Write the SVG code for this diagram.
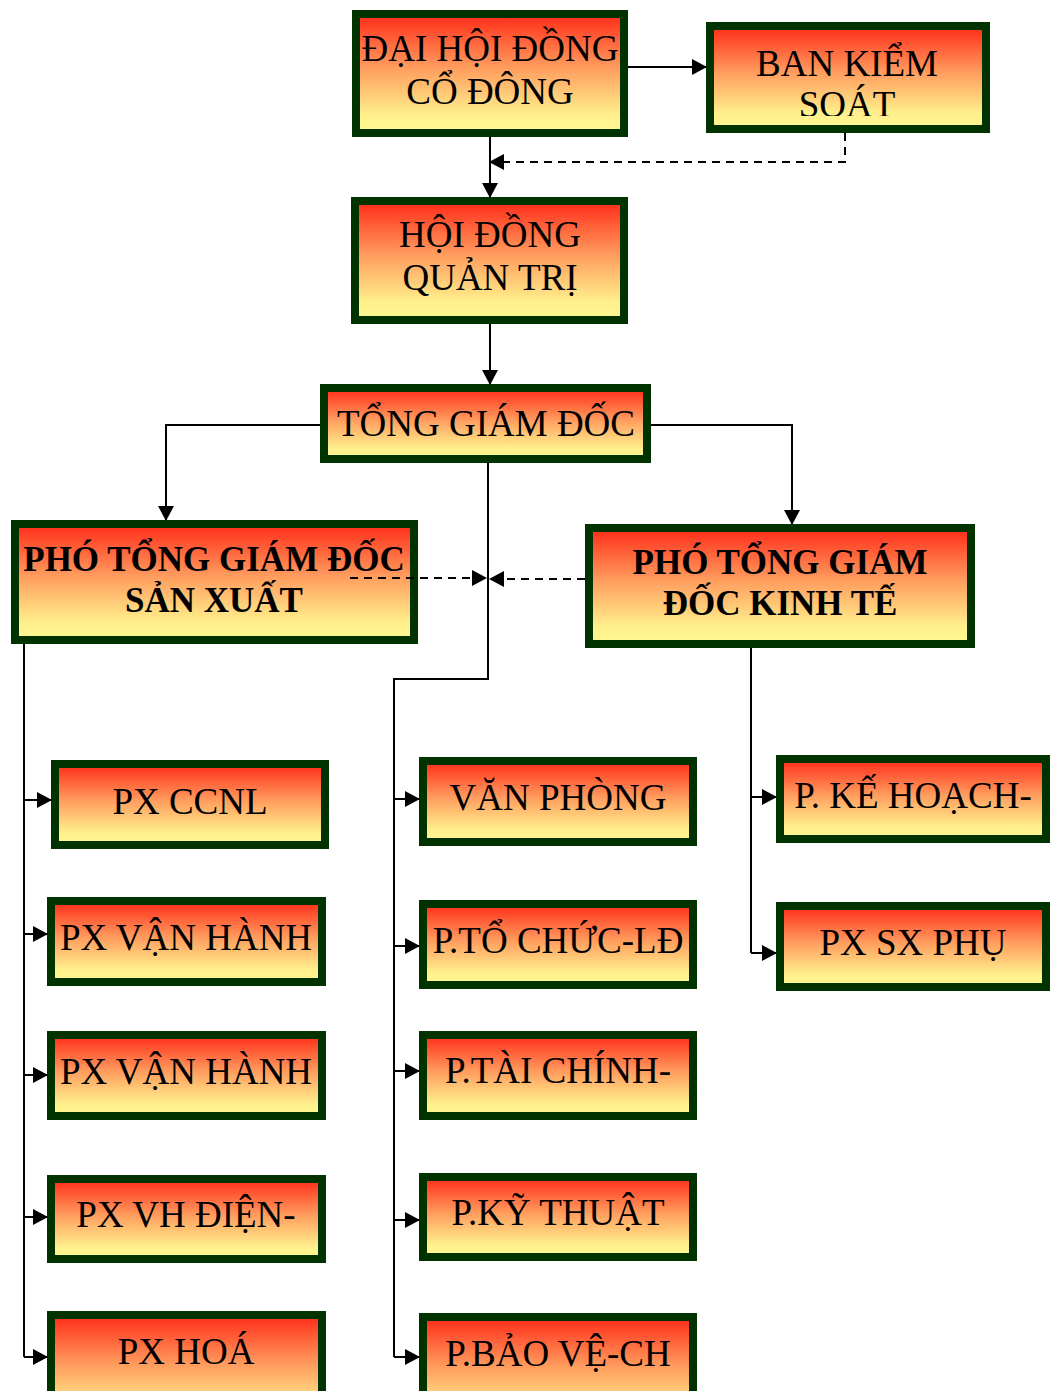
<svg xmlns="http://www.w3.org/2000/svg" width="1050" height="1391" viewBox="0 0 1050 1391">
<style>
.box{stroke:#003300;stroke-width:8;fill:url(#g)}
.t{font-family:"Liberation Serif","Times New Roman",serif;font-size:37px;fill:#000;text-anchor:middle}
.b{font-weight:bold;font-size:35px}
.ln{fill:none;stroke:#000;stroke-width:2}
.ds{stroke-dasharray:8,6}
</style>
<defs>
<linearGradient id="g" x1="0" y1="0" x2="0" y2="1">
<stop offset="0" stop-color="#ff2a18"/>
<stop offset="0.45" stop-color="#ff9c5e"/>
<stop offset="0.85" stop-color="#fff08c"/>
<stop offset="1" stop-color="#fff891"/>
</linearGradient>
<marker id="a" markerUnits="userSpaceOnUse" markerWidth="15" markerHeight="16" refX="14" refY="8" orient="auto">
<path d="M0,0 L15,8 L0,16 Z" fill="#000"/>
</marker>
<clipPath id="cB"><rect x="714" y="30" width="268" height="86"/></clipPath>
</defs>
<g id="dhdcd"><rect class="box" x="356" y="14" width="268" height="119"/><text class="t" x="490" y="61">ĐẠI HỘI ĐỒNG</text><text class="t" x="490" y="104">CỔ ĐÔNG</text></g>
<g id="bks"><rect class="box" x="710" y="26" width="276" height="103"/><text class="t" x="847" y="76">BAN KIỂM</text><text class="t" x="847" y="117" clip-path="url(#cB)">SOÁT</text></g>
<g id="hdqt"><rect class="box" x="355" y="201" width="269" height="119"/><text class="t" x="490" y="247">HỘI ĐỒNG</text><text class="t" x="490" y="290">QUẢN TRỊ</text></g>
<g id="tgd"><rect class="box" x="324" y="388" width="323" height="71"/><text class="t" x="486" y="436">TỔNG GIÁM ĐỐC</text></g>
<g id="ptgdsx"><rect class="box" x="15" y="524" width="399" height="116"/><text class="t b" x="214" y="571">PHÓ TỔNG GIÁM ĐỐC</text><text class="t b" x="214" y="612">SẢN XUẤT</text></g>
<g id="ptgdkt"><rect class="box" x="589" y="528" width="382" height="116"/><text class="t b" x="780" y="574">PHÓ TỔNG GIÁM</text><text class="t b" x="780" y="615">ĐỐC KINH TẾ</text></g>
<g id="pxccnl"><rect class="box" x="55" y="764" width="270" height="81"/><text class="t" x="190" y="814">PX CCNL</text></g>
<g id="pxvh1"><rect class="box" x="51" y="901" width="271" height="81"/><text class="t" x="186" y="950">PX VẬN HÀNH</text></g>
<g id="pxvh2"><rect class="box" x="51" y="1035" width="271" height="81"/><text class="t" x="186" y="1084">PX VẬN HÀNH</text></g>
<g id="pxvhd"><rect class="box" x="51" y="1179" width="271" height="80"/><text class="t" x="186" y="1227">PX VH ĐIỆN-</text></g>
<g id="pxhoa"><rect class="box" x="51" y="1315" width="271" height="110"/><text class="t" x="186" y="1364">PX HOÁ</text></g>
<g id="vp"><rect class="box" x="423" y="761" width="270" height="81"/><text class="t" x="558" y="810">VĂN PHÒNG</text></g>
<g id="tcld"><rect class="box" x="423" y="904" width="270" height="81"/><text class="t" x="558" y="953">P.TỔ CHỨC-LĐ</text></g>
<g id="tckt"><rect class="box" x="423" y="1035" width="270" height="81"/><text class="t" x="558" y="1083">P.TÀI CHÍNH-</text></g>
<g id="kt"><rect class="box" x="423" y="1177" width="270" height="80"/><text class="t" x="558" y="1225">P.KỸ THUẬT</text></g>
<g id="bv"><rect class="box" x="423" y="1317" width="270" height="110"/><text class="t" x="558" y="1366">P.BẢO VỆ-CH</text></g>
<g id="khkt"><rect class="box" x="780" y="759" width="266" height="80"/><text class="t" x="913" y="808">P. KẾ HOẠCH-</text></g>
<g id="sxphu"><rect class="box" x="780" y="906" width="266" height="81"/><text class="t" x="913" y="955">PX SX PHỤ</text></g>
<g id="connectors">
<path class="ln" d="M628,67 H706" marker-end="url(#a)"/>
<path class="ln" d="M490,137 V197" marker-end="url(#a)"/>
<path class="ln ds" d="M845,133 V162 H490" marker-end="url(#a)"/>
<path class="ln" d="M490,324 V384" marker-end="url(#a)"/>
<path class="ln" d="M320,425 H166 V520" marker-end="url(#a)"/>
<path class="ln" d="M651,425 H792 V524" marker-end="url(#a)"/>
<path class="ln" d="M488,463 V679 H394 V1357"/>
<path class="ln ds" d="M350,578 H486" marker-end="url(#a)"/>
<path class="ln ds" d="M585,579 H490" marker-end="url(#a)"/>
<path class="ln" d="M24,644 V1357"/>
<path class="ln" d="M24,800 H51" marker-end="url(#a)"/>
<path class="ln" d="M24,934 H47" marker-end="url(#a)"/>
<path class="ln" d="M24,1075 H47" marker-end="url(#a)"/>
<path class="ln" d="M24,1217 H47" marker-end="url(#a)"/>
<path class="ln" d="M24,1357 H47" marker-end="url(#a)"/>
<path class="ln" d="M394,799 H419" marker-end="url(#a)"/>
<path class="ln" d="M394,946 H419" marker-end="url(#a)"/>
<path class="ln" d="M394,1071 H419" marker-end="url(#a)"/>
<path class="ln" d="M394,1220 H419" marker-end="url(#a)"/>
<path class="ln" d="M394,1357 H419" marker-end="url(#a)"/>
<path class="ln" d="M751,648 V953"/>
<path class="ln" d="M751,797 H776" marker-end="url(#a)"/>
<path class="ln" d="M751,953 H776" marker-end="url(#a)"/>
</g>
</svg>
